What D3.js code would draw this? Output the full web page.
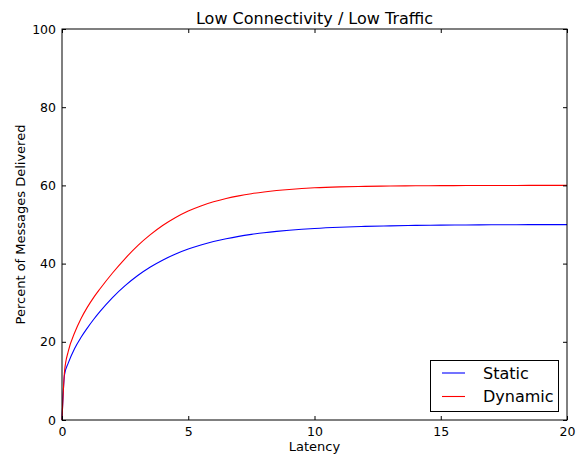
<!DOCTYPE html>
<html><head><meta charset="utf-8">
<script src="https://cdn.jsdelivr.net/npm/d3@7"></script>
<style>body{margin:0;background:#fff}svg text{font-family:"DejaVu Sans",sans-serif;fill:#000}</style>
</head><body><svg id="c" width="581" height="456"></svg>
<script>
const latency = [0, 0.1, 0.25, 0.5, 0.75, 1, 1.25, 1.5, 2, 2.5, 3, 3.5, 4, 4.5, 5, 5.5, 6, 6.5, 7, 7.5, 8, 8.5, 9, 9.5, 10, 11, 12, 13, 14, 15, 16, 17, 18, 19, 20];
const staticVals  = [0, 11.6, 14.6, 18.3, 21.1, 23.5, 25.7, 27.7, 31.3, 34.35, 36.95, 39.13, 40.94, 42.45, 43.71, 44.76, 45.64, 46.36, 46.97, 47.47, 47.9, 48.25, 48.54, 48.78, 48.99, 49.3, 49.51, 49.66, 49.77, 49.84, 49.89, 49.92, 49.95, 49.96, 49.97];
const dynamicVals = [0, 12.4, 17.6, 22.3, 25.9, 28.8, 31.3, 33.5, 37.6, 41.3, 44.6, 47.4, 49.8, 51.8, 53.45, 54.75, 55.8, 56.65, 57.33, 57.88, 58.32, 58.68, 58.97, 59.2, 59.38, 59.62, 59.76, 59.85, 59.91, 59.94, 59.96, 59.98, 59.99, 60, 60];
const seriesNames = ["Static", "Dynamic"];
const seriesColors = ["#0000ff", "#ff0000"];
const xTicks = [0, 5, 10, 15, 20];
const yTicks = [0, 20, 40, 60, 80, 100];
const title = "Low Connectivity / Low Traffic";
const xLabel = "Latency";
const yLabel = "Percent of Messages Delivered";

const L = 62, R = 567, T = 29, B = 420;
const svg = d3.select("#c");
const x = d3.scaleLinear().domain([0, 20]).range([L, R]);
const y = d3.scaleLinear().domain([0, 100]).range([B, T]);

const line = d3.line().x(d => x(d[0])).y(d => y(d[1])).curve(d3.curveMonotoneX);
[staticVals, dynamicVals].forEach((vals, i) => {
  svg.append("path").datum(latency.map((l, j) => [l, vals[j]]))
    .attr("d", line).attr("fill", "none").attr("stroke", seriesColors[i]).attr("stroke-width", 1.1);
});

// axes with inward ticks
const fs = 12.5;
svg.append("g").attr("transform", `translate(0,${B})`)
  .call(d3.axisBottom(x).tickValues(xTicks).tickSizeInner(-4).tickSizeOuter(0).tickPadding(7))
  .call(g => g.select(".domain").remove())
  .call(g => g.selectAll("text").attr("font-size", fs).attr("font-family", "DejaVu Sans"));
svg.append("g").attr("transform", `translate(0,${T})`)
  .call(d3.axisTop(x).tickValues(xTicks).tickSizeInner(-4).tickSizeOuter(0).tickFormat(""))
  .call(g => g.select(".domain").remove());
svg.append("g").attr("transform", `translate(${L},0)`)
  .call(d3.axisLeft(y).tickValues(yTicks).tickSizeInner(-4).tickSizeOuter(0).tickPadding(6))
  .call(g => g.select(".domain").remove())
  .call(g => g.selectAll("text").attr("font-size", fs).attr("font-family", "DejaVu Sans"));
svg.append("g").attr("transform", `translate(${R},0)`)
  .call(d3.axisRight(y).tickValues(yTicks).tickSizeInner(-4).tickSizeOuter(0).tickFormat(""))
  .call(g => g.select(".domain").remove());
svg.selectAll(".tick line").attr("stroke", "#000");

svg.append("rect").attr("x", L).attr("y", T).attr("width", R - L).attr("height", B - T)
  .attr("fill", "none").attr("stroke", "#000").attr("stroke-width", 1);

svg.append("text").attr("x", (L + R) / 2).attr("y", 24).attr("text-anchor", "middle")
  .attr("font-size", 16).text(title);
svg.append("text").attr("x", (L + R) / 2).attr("y", 450.5).attr("text-anchor", "middle")
  .attr("font-size", 13).text(xLabel);
svg.append("text").attr("transform", `translate(25,${(T + B) / 2}) rotate(-90)`)
  .attr("text-anchor", "middle").attr("font-size", 13).text(yLabel);

// legend
const lg = svg.append("g");
lg.append("rect").attr("x", 430.5).attr("y", 360.5).attr("width", 128).attr("height", 51)
  .attr("fill", "#fff").attr("stroke", "#000").attr("stroke-width", 1);
seriesNames.forEach((n, i) => {
  const yy = 373 + i * 23.5;
  lg.append("line").attr("x1", 442).attr("x2", 465).attr("y1", yy).attr("y2", yy)
    .attr("stroke", seriesColors[i]).attr("stroke-width", 1.1);
  lg.append("text").attr("x", 483).attr("y", yy + 5.5).attr("font-size", 16).text(n);
});
</script></body></html>
